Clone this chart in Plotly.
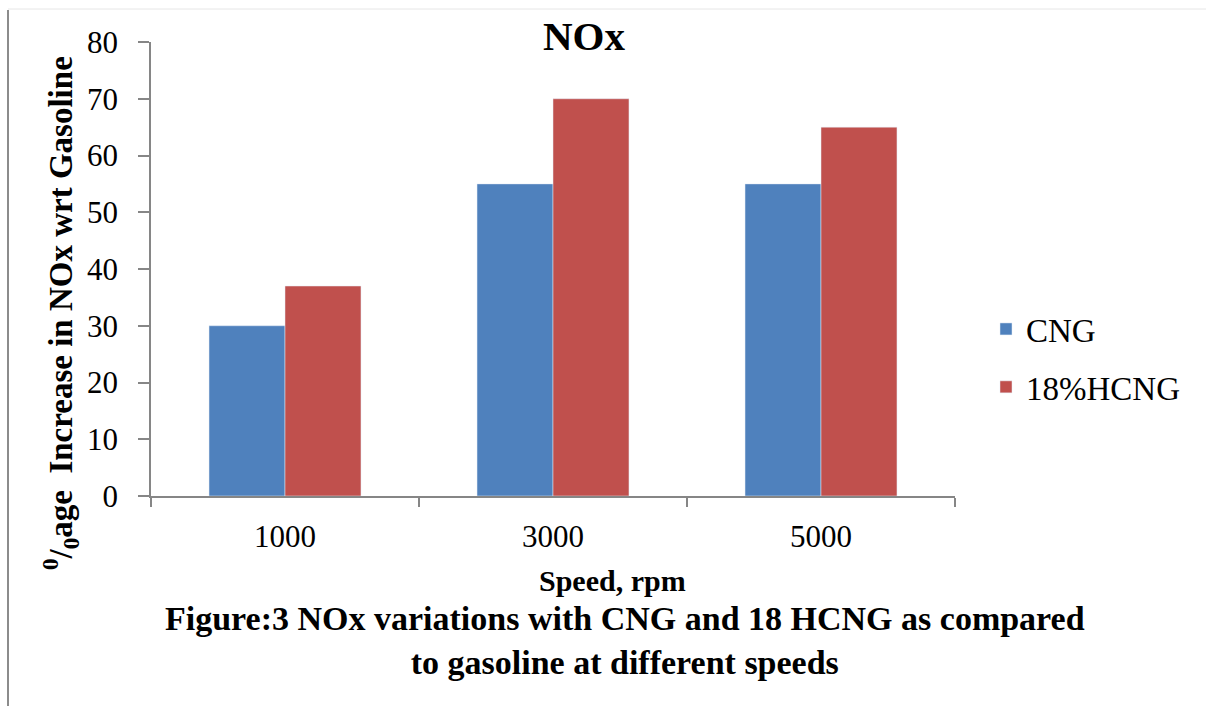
import plotly.graph_objects as go

speeds = ["1000", "3000", "5000"]
cng = [30, 55, 55]
hcng = [37, 70, 65]
series_names = ["CNG", "18%HCNG"]
colors = ["#4F81BD", "#C0504D"]

FONT = "Liberation Serif"
AX = "#868686"

fig = go.Figure()
fig.add_trace(go.Bar(x=speeds, y=cng, name=series_names[0], marker_color=colors[0],
                     legendgroup="a"))
fig.add_trace(go.Bar(x=speeds, y=hcng, name=series_names[1], marker_color=colors[1],
                     legendgroup="b"))

W, H = 1206, 708
L, R, T, B = 151, 251, 42, 212
pw = W - L - R
ph = H - T - B

def px(x):
    return (x - L) / pw

def py(y):
    return (H - B - y) / ph

fig.update_layout(
    width=W, height=H,
    margin=dict(l=L, r=R, t=T, b=B),
    paper_bgcolor="white", plot_bgcolor="white",
    barmode="group", bargap=0.433, bargroupgap=0,
    font=dict(family=FONT, size=31, color="black"),
    showlegend=True,
    legend=dict(x=px(986), y=py(301), xanchor="left", yanchor="top",
                font=dict(family=FONT, size=33), tracegroupgap=12,
                traceorder="grouped", itemwidth=30),
    xaxis=dict(type="category", showline=True, linecolor=AX, linewidth=1.5,
               ticks="outside", ticklen=9, tickcolor=AX, tickwidth=1.5,
               tickson="boundaries", ticklabelstandoff=12,
               tickfont=dict(family=FONT, size=31), showgrid=False),
    yaxis=dict(range=[0, 80], dtick=10, showline=True, linecolor=AX, linewidth=1.5,
               ticks="outside", ticklen=11, tickcolor=AX, tickwidth=1.5,
               ticklabelstandoff=14, tickfont=dict(family=FONT, size=31),
               showgrid=False, zeroline=False),
)

annotations = [
    dict(text="<b>NOx</b>", x=px(584), y=py(36), font=dict(size=41)),
    dict(text="<b><sup>0</sup>/<sub>0</sub>age  Increase in NOx wrt Gasoline</b>",
         x=px(60), y=py(313), textangle=-90, font=dict(size=33)),
    dict(text="<b>Speed, rpm</b>", x=px(612), y=py(580), font=dict(size=30)),
    dict(text="<b>Figure:3 NOx variations with CNG and 18 HCNG as compared<br>to gasoline at different speeds</b>",
         x=px(625), y=py(640), font=dict(size=34)),
]
for a in annotations:
    a.update(xref="paper", yref="paper", showarrow=False, xanchor="center", yanchor="middle")
    fig.add_annotation(**a)

# page border lines of the source document
fig.add_shape(type="line", xref="paper", yref="paper", x0=px(8), x1=px(8), y0=py(10), y1=py(706),
              line=dict(color="#8c8c8c", width=2))
fig.add_shape(type="line", xref="paper", yref="paper", x0=px(8), x1=px(1206), y0=py(9), y1=py(9),
              line=dict(color="#e6e6e6", width=1))

fig.write_html("out.html")
